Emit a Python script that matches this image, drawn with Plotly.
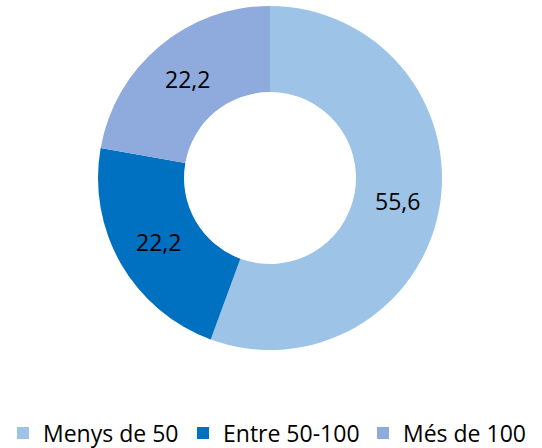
import math
import plotly.graph_objects as go

categories = ["Menys de 50", "Entre 50-100", "Més de 100"]
values = [55.6, 22.2, 22.2]
value_labels = ["55,6", "22,2", "22,2"]
colors = ["#9DC3E6", "#0070C0", "#8FAADC"]

W, H = 542, 448
FONT = "Open Sans"
HOLE = 0.5
dom_x = [98 / W, 442 / W]
dom_y = [1 - 350 / H, 1 - 6 / H]

fig = go.Figure(go.Pie(
    labels=categories,
    values=values,
    textinfo="none",
    hole=HOLE,
    sort=False,
    direction="clockwise",
    rotation=0,
    marker=dict(colors=colors, line=dict(color="white", width=0)),
    domain=dict(x=dom_x, y=dom_y),
    hoverinfo="label+value",
))

# data labels at the middle of each ring segment (mid-angle, mid-radius)
cx_px = (dom_x[0] + dom_x[1]) / 2 * W
cy_px = (1 - (dom_y[0] + dom_y[1]) / 2) * H
r_out = (dom_x[1] - dom_x[0]) * W / 2
r_mid = r_out * (1 + HOLE) / 2
total = sum(values)
cum = 0.0
for v, lab in zip(values, value_labels):
    mid = (cum + v / 2) / total * 2 * math.pi
    cum += v
    px = cx_px + r_mid * math.sin(mid)
    py = cy_px - r_mid * math.cos(mid)
    fig.add_annotation(x=px / W, y=1 - py / H, xref="paper", yref="paper",
                       text=lab, showarrow=False, xanchor="center", yanchor="middle",
                       font=dict(family=FONT, size=23, color="black"))

fig.update_layout(
    width=W, height=H,
    margin=dict(l=0, r=0, t=0, b=0, autoexpand=False),
    paper_bgcolor="white",
    font=dict(family=FONT, size=23, color="black"),
    legend=dict(orientation="h", x=3 / W, xanchor="left", y=1 - 433 / H, yanchor="middle",
                font=dict(size=23, color="black", family=FONT), itemwidth=30,
                entrywidth=135, entrywidthmode="pixels", borderwidth=0),
    showlegend=True,
)
fig.write_html("out.html", config={"displayModeBar": False},
               post_script="document.body.style.margin='0';")
